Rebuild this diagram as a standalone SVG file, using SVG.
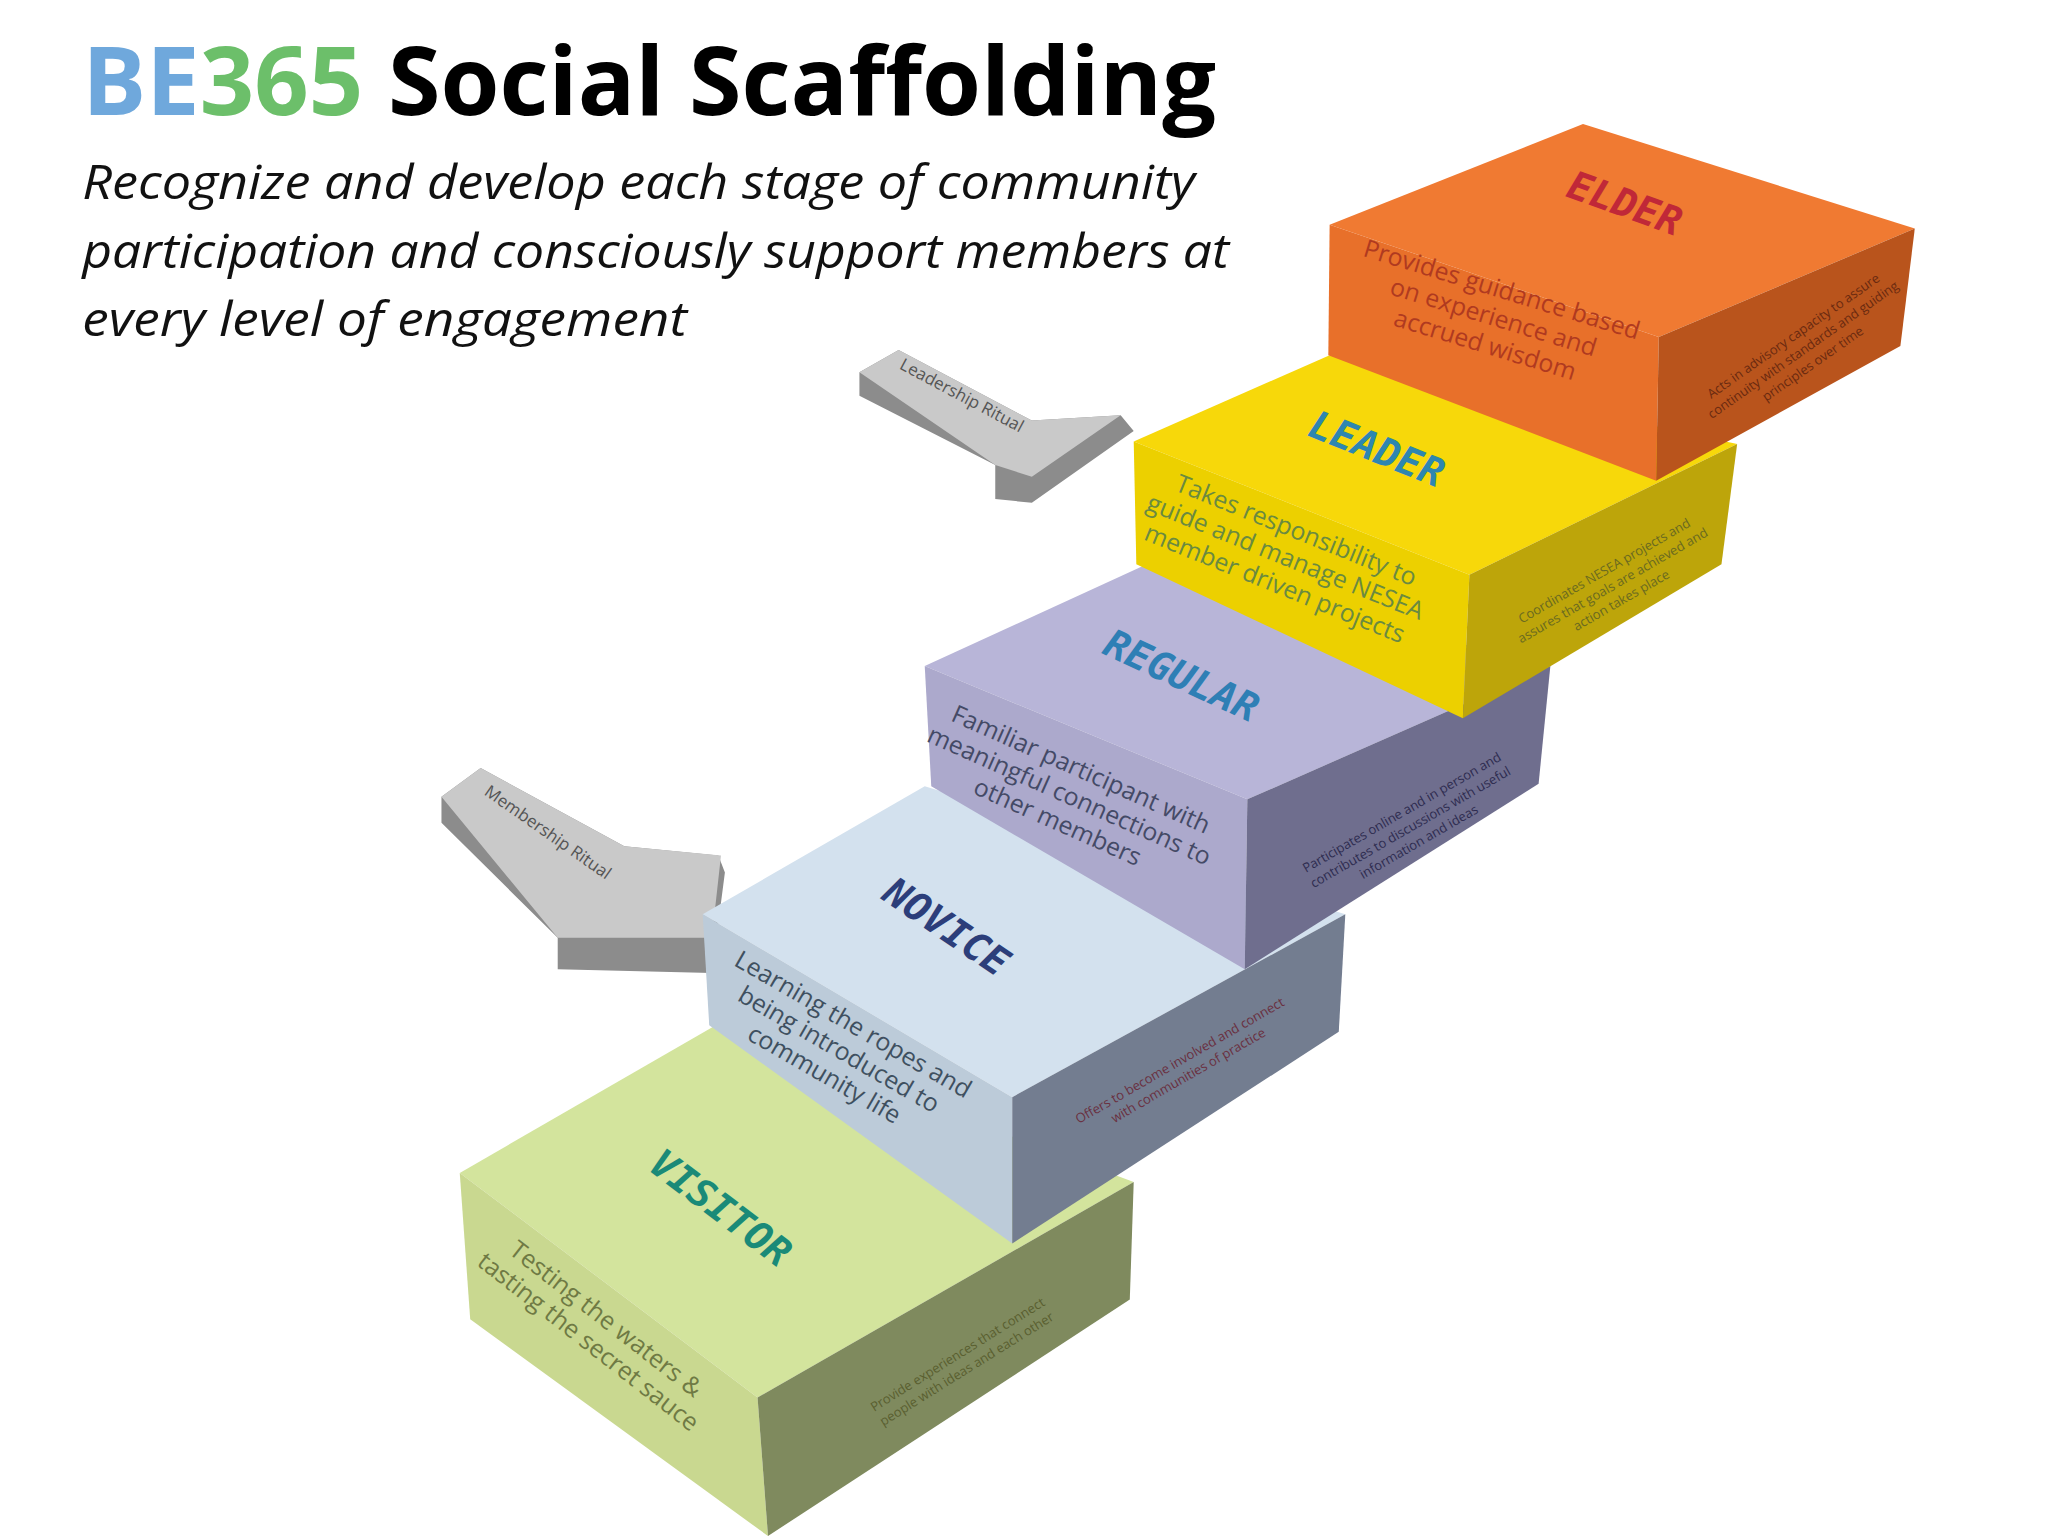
<svg xmlns="http://www.w3.org/2000/svg" width="2048" height="1536" viewBox="0 0 2048 1536">
<style>
.t{font-family:"Open Sans","DejaVu Sans",sans-serif}
.lab{font-family:"DejaVu Sans Mono","Liberation Mono",monospace;font-weight:bold;font-style:italic;font-size:30px}
.d{font-family:"Open Sans","DejaVu Sans",sans-serif;font-size:19px;text-anchor:middle}
.s{font-family:"Open Sans","DejaVu Sans",sans-serif;font-size:10px;text-anchor:middle}
.a{font-family:"Open Sans","DejaVu Sans",sans-serif;font-size:13px;fill:#555}
</style>
<rect width="2048" height="1536" fill="#fff"/>
<g transform="scale(1.306122)">
<g id="title">
<text x="63" y="88" class="t" font-size="73" font-weight="bold"><tspan fill="#6fa8dc">BE</tspan><tspan fill="#6cbf6a">365</tspan><tspan fill="#000"> Social Scaffolding</tspan></text>
<text class="t" font-size="36" font-style="italic" fill="#111" textLength="852" lengthAdjust="spacingAndGlyphs"><tspan x="63" y="152" textLength="852" lengthAdjust="spacingAndGlyphs">Recognize and develop each stage of community</tspan></text>
<text class="t" font-size="36" font-style="italic" fill="#111"><tspan x="63" y="205" textLength="878" lengthAdjust="spacingAndGlyphs">participation and consciously support members at</tspan></text>
<text class="t" font-size="36" font-style="italic" fill="#111"><tspan x="63" y="257" textLength="463" lengthAdjust="spacingAndGlyphs">every level of engagement</tspan></text>
</g>
<g id="connectors">
<g id="leadership-arrow">
<polygon points="658,285 688,268 790,322 858,318 868,330 790,385 762,382 762,356 658,303" fill="#8c8c8c"/>
<polygon points="658,285 688,268 790,322 858,318 790,365 762,356" fill="#c9c9c9"/>
<text class="a" transform="translate(688,282) rotate(28)">Leadership Ritual</text>
</g>
<g id="membership-arrow">
<polygon points="338,610 368,588 478,648 550,655 555,668 545,745 427,742 427,718 338,630" fill="#8c8c8c"/>
<polygon points="338,610 368,588 478,648 552,655 545,718 427,718" fill="#c9c9c9"/>
<text class="a" transform="translate(370,608) rotate(35)">Membership Ritual</text>
</g>
</g>
<g id="visitor">
<polygon points="352,898 548,785 868,905 580,1070" fill="#d3e49d"/>
<polygon points="352,898 580,1070 588,1176 360,1010" fill="#c9d890"/>
<polygon points="580,1070 868,905 865,995 588,1176" fill="#7f8a5e"/>
<text class="lab" fill="#1a8a78" font-size="44" transform="translate(495,895) rotate(37)">VISITOR</text>
<text class="d" fill="#6f7a44" transform="translate(460,1015) rotate(38)"><tspan x="0" y="0">Testing the waters &amp;</tspan><tspan x="0" y="22">tasting the secret sauce</tspan></text>
<text class="s" fill="#5a5f30" transform="translate(735,1040) rotate(-32)"><tspan x="0" y="0">Provide experiences that connect</tspan><tspan x="0" y="13">people with ideas and each other</tspan></text>
</g>
<g id="novice">
<polygon points="538,700 708,602 1030,700 775,840" fill="#d3e1ee"/>
<polygon points="538,700 775,840 775,952 543,785" fill="#bccbd9"/>
<polygon points="775,840 1030,700 1025,790 775,952" fill="#737d90"/>
<text class="lab" fill="#2c3e7a" font-size="40" transform="translate(674,688) rotate(34)">NOVICE</text>
<text class="d" fill="#3f5060" transform="translate(650,790) rotate(30)"><tspan x="0" y="0">Learning the ropes and</tspan><tspan x="0" y="22">being introduced to</tspan><tspan x="0" y="44">community life</tspan></text>
<text class="s" fill="#6a3040" transform="translate(905,815) rotate(-30)"><tspan x="0" y="0">Offers to become involved and connect</tspan><tspan x="0" y="13">with communities of practice</tspan></text>
</g>
<g id="regular">
<polygon points="708,510 878,432 1187,510 955,612" fill="#b8b5d8"/>
<polygon points="708,510 955,612 953,742 713,602" fill="#aca9cc"/>
<polygon points="955,612 1187,510 1178,600 953,742" fill="#6f6e8e"/>
<text class="lab" fill="#2e7fb5" font-size="36" transform="translate(843,500) rotate(25)">REGULAR</text>
<text class="d" fill="#444a66" transform="translate(825,595) rotate(24)"><tspan x="0" y="0">Familiar participant with</tspan><tspan x="0" y="22">meaningful connections to</tspan><tspan x="0" y="44">other members</tspan></text>
<text class="s" fill="#2e2c50" transform="translate(1075,625) rotate(-30)"><tspan x="0" y="0">Participates online and in person and</tspan><tspan x="0" y="13">contributes to discussions with useful</tspan><tspan x="0" y="26">information and ideas</tspan></text>
</g>
<g id="leader">
<polygon points="868,338 1018,272 1330,340 1125,440" fill="#f7d80a"/>
<polygon points="868,338 1125,440 1120,550 870,432" fill="#ecd000"/>
<polygon points="1125,440 1330,340 1318,432 1120,550" fill="#bda50a"/>
<text class="lab" fill="#2e86b0" font-size="32" transform="translate(1000,333) rotate(22)">LEADER</text>
<text class="d" fill="#6a8a40" transform="translate(990,412) rotate(22)"><tspan x="0" y="0">Takes responsibility to</tspan><tspan x="0" y="22">guide and manage NESEA</tspan><tspan x="0" y="44">member driven projects</tspan></text>
<text class="s" fill="#6a6a20" transform="translate(1230,440) rotate(-30)"><tspan x="0" y="0">Coordinates NESEA projects and</tspan><tspan x="0" y="13">assures that goals are achieved and</tspan><tspan x="0" y="26">action takes place</tspan></text>
</g>
<g id="elder">
<polygon points="1018,172 1212,95 1466,175 1270,258" fill="#f07a32"/>
<polygon points="1018,172 1270,258 1268,368 1017,272" fill="#e8702a"/>
<polygon points="1270,258 1466,175 1455,265 1268,368" fill="#b9541c"/>
<text class="lab" fill="#c02838" font-size="26" transform="translate(1198,150) rotate(20)">ELDER</text>
<text class="d" fill="#b03a20" transform="translate(1148,228) rotate(17)"><tspan x="0" y="0">Provides guidance based</tspan><tspan x="0" y="22">on experience and</tspan><tspan x="0" y="44">accrued wisdom</tspan></text>
<text class="s" fill="#6a2a10" transform="translate(1375,260) rotate(-35)"><tspan x="0" y="0">Acts in advisory capacity to assure</tspan><tspan x="0" y="13">continuity with standards and guiding</tspan><tspan x="0" y="26">principles over time</tspan></text>
</g>
</g>
</svg>
